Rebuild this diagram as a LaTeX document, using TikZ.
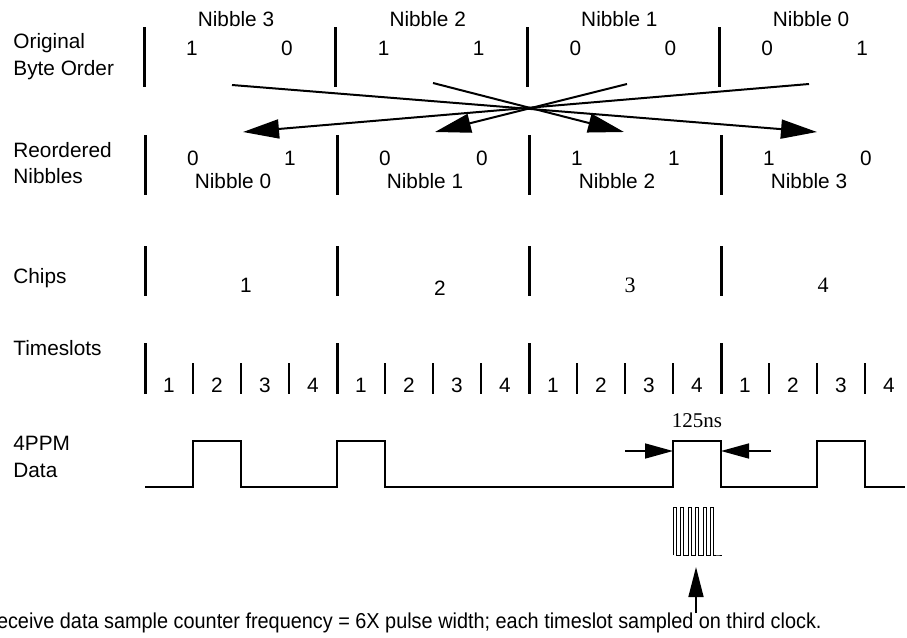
\documentclass[tikz,border=0pt]{standalone}
\usepackage{fontspec}
\setmainfont{Liberation Sans}
\newfontfamily\timesfont{Liberation Serif}
\newfontfamily\narrowfont[FakeStretch=0.92]{Liberation Sans}
\usetikzlibrary{arrows.meta}

\begin{document}
\begin{tikzpicture}[x=0.5pt,y=-0.5pt,
  every node/.style={inner sep=0pt,anchor=base,font=\fontsize{10.4}{12.5}\selectfont},
  bar/.style={line width=1.5pt},
  tick/.style={line width=1pt},
  sig/.style={line width=1.3pt},
  swap/.style={line width=1pt,-{Triangle[length=18pt,width=9.5pt]}},
  dim/.style={line width=0.8pt,-{Triangle[length=14pt,width=7.5pt]}}]
  \useasboundingbox (0,0) rectangle (907,638);
  \def\xt{144}
  \def\wt{191.7}
  \def\x{145}
  \def\w{192}
  \def\s{48}
  \node[anchor=base west] (orig) at (13,48) {Original};
  \node[anchor=base west] (byte) at (13,75) {Byte Order};
  \node[anchor=base west] (reor) at (13,157) {Reordered};
  \node[anchor=base west] (nibs) at (13,183) {Nibbles};
  \node[anchor=base west] (chips) at (13,283) {Chips};
  \node[anchor=base west] (slots) at (13,355) {Timeslots};
  \node[anchor=base west] (ppm) at (13,450) {4PPM};
  \node[anchor=base west] (data) at (13,477) {Data};
  \foreach \n/\a/\b [count=\i from 0] in {3/1/0,2/1/1,1/0/0,0/0/1} {
    \draw[bar] (\xt+\i*\wt,27) -- (\xt+\i*\wt,87);
    \node (tn\i) at (\xt+\i*\wt+92,26) {Nibble \n};
    \node (ta\i) at (\xt+\i*\wt+48,55) {\a};
    \node (tb\i) at (\xt+\i*\wt+143,55) {\b};
  }
  \foreach \n/\a/\b [count=\i from 0] in {0/0/1,1/0/0,2/1/1,3/1/0} {
    \draw[bar] (\x+\i*\w,135) -- (\x+\i*\w,195);
    \node (rn\i) at (\x+\i*\w+88,188) {Nibble \n};
    \node (ra\i) at (\x+\i*\w+48,165) {\a};
    \node (rb\i) at (\x+\i*\w+145,165) {\b};
  }
  \coordinate (s3) at (232,85);
  \coordinate (s2) at (433,83);
  \coordinate (s1) at (627,84);
  \coordinate (s0) at (809,84);
  \coordinate (e3) at (817,132);
  \coordinate (e2) at (624,132);
  \coordinate (e1) at (435,132);
  \coordinate (e0) at (243,132);
  \foreach \i in {0,...,3} {
    \draw[swap] (s\i) -- (e\i);
  }
  \foreach \i in {0,...,3} {
    \draw[bar] (\x+\i*\w,246) -- (\x+\i*\w,296);
  }
  \node (chip1) at (246,292) {1};
  \node (chip2) at (440,295) {2};
  \node[font={\timesfont\fontsize{11}{13}\selectfont}] (chip3) at (630,292) {3};
  \node[font={\timesfont\fontsize{11}{13}\selectfont}] (chip4) at (823,292) {4};
  \foreach \i in {0,...,3} {
    \draw[bar] (\x+\i*\w,343) -- (\x+\i*\w,394);
    \foreach \j in {1,2,3}
      \draw[tick] (\x+\i*\w+\j*\s,363) -- (\x+\i*\w+\j*\s,394);
    \foreach \j in {1,...,4}
      \node (ts\i\j) at (\x+\i*\w+\j*\s-24,392) {\j};
  }
  \draw[sig] (145,487) -- (193,487) -- (193,441) -- (241,441) -- (241,487)
    -- (337,487) -- (337,441) -- (385,441) -- (385,487)
    -- (673,487) -- (673,441) -- (721,441) -- (721,487)
    -- (817,487) -- (817,441) -- (865,441) -- (865,487) -- (905,487);
  \node[font={\timesfont\fontsize{10.5}{12.5}\selectfont}] (pw) at (697,427) {125ns};
  \coordinate (dl) at (625,451);
  \coordinate (pl) at (673,451);
  \coordinate (dr) at (771,451);
  \coordinate (pr) at (721,451);
  \draw[dim] (dl) -- (pl);
  \draw[dim] (dr) -- (pr);
  \draw[line width=0.5pt] (673,555)
    \foreach \k in {0,...,5} { -- (673+\k*7.5,507) -- (676.4+\k*7.5,507) -- (676.4+\k*7.5,555) -- (680.5+\k*7.5,555) }
    -- (722,555);
  \node[anchor=base east,font=\narrowfont\fontsize{10.8}{13}\selectfont] (note) at (822,628)
    {Receive data sample counter frequency = 6X pulse width; each timeslot sampled on third clock.};
  \coordinate (clk) at (696,567);
  \coordinate (tail) at (696,613);
  \draw[line width=0.8pt,-{Triangle[length=15pt,width=7.5pt]}] (tail) -- (clk);
\end{tikzpicture}
\end{document}
